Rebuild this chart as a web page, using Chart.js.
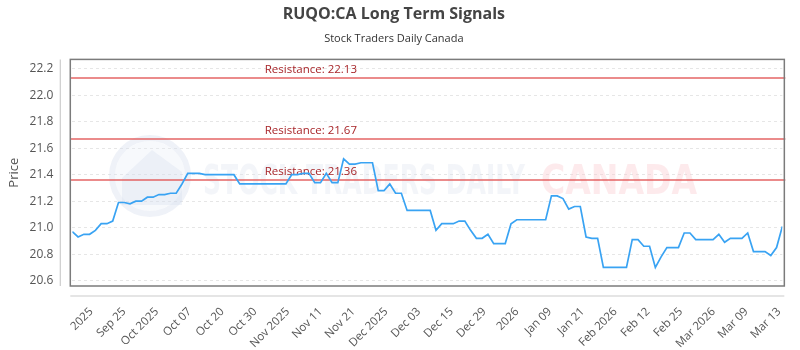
<!DOCTYPE html>
<html>
<head>
<meta charset="utf-8">
<script src="https://cdn.jsdelivr.net/npm/chart.js@4/dist/chart.umd.min.js"></script>
<style>
html,body{margin:0;padding:0;background:#fff;}
</style>
</head>
<body>
<canvas id="signals" width="800" height="350"></canvas>
<script>
const chartTitle='RUQO:CA Long Term Signals';
const chartSubtitle='Stock Traders Daily Canada';
// closing prices, one per point
const price=[
20.97,20.93,20.95,20.95,20.98,21.03,21.03,21.05,21.19,21.19,
21.18,21.20,21.20,21.23,21.23,21.25,21.25,21.26,21.26,21.33,
21.41,21.41,21.41,21.40,21.40,21.40,21.40,21.40,21.40,21.33,
21.33,21.33,21.33,21.33,21.33,21.33,21.33,21.33,21.40,21.40,
21.41,21.41,21.34,21.34,21.41,21.34,21.34,21.52,21.48,21.48,
21.49,21.49,21.49,21.28,21.28,21.33,21.26,21.26,21.13,21.13,
21.13,21.13,21.13,20.98,21.03,21.03,21.03,21.05,21.05,20.98,
20.92,20.92,20.95,20.88,20.88,20.88,21.03,21.06,21.06,21.06,
21.06,21.06,21.06,21.24,21.24,21.22,21.14,21.16,21.16,20.93,
20.92,20.92,20.70,20.70,20.70,20.70,20.70,20.91,20.91,20.86,
20.86,20.70,20.78,20.85,20.85,20.85,20.96,20.96,20.91,20.91,
20.91,20.91,20.95,20.89,20.92,20.92,20.92,20.96,20.82,20.82,
20.82,20.79,20.85,21.01
];
const tickLabels=['2025','Sep 25','Oct 2025','Oct 07','Oct 20','Oct 30','Nov 2025','Nov 11','Nov 21','Dec 2025','Dec 03',
  'Dec 15','Dec 29','2026','Jan 09','Jan 21','Feb 2026','Feb 12','Feb 25','Mar 2026','Mar 09','Mar 13'];
const yTicks=[20.6,20.8,21.0,21.2,21.4,21.6,21.8,22.0,22.2];
const resistance=[22.13,21.67,21.36];

// x ticks are evenly spaced, not tied to data points (in point-index units)
const tickFirst=3.3, tickGap=5.674;

const decor={
  id:'decor',
  beforeDatasetsDraw(chart){
    const {ctx,chartArea:a,scales:{y}}=chart;
    ctx.save();
    // watermark logo
    ctx.strokeStyle='rgba(215,223,238,0.4)';
    ctx.lineWidth=6;
    ctx.beginPath();ctx.arc(150,176,38,0,Math.PI*2);ctx.stroke();
    ctx.fillStyle='rgba(230,236,246,0.3)';
    ctx.beginPath();ctx.arc(150,176,35,0,Math.PI*2);ctx.fill();
    ctx.fillStyle='rgba(210,218,234,0.3)';
    ctx.beginPath();ctx.moveTo(122,178);ctx.lineTo(152,150);ctx.lineTo(182,172);ctx.lineTo(182,205);ctx.lineTo(122,205);ctx.closePath();ctx.fill();
    // watermark text
    ctx.font='bold 40px "DejaVu Sans Condensed", "DejaVu Sans"';
    ctx.textBaseline='alphabetic';
    let t1='STOCK TRADERS DAILY', t2='CANADA';
    let w1=ctx.measureText(t1).width, w2=ctx.measureText(t2).width;
    ctx.save();ctx.translate(203,194);ctx.scale(322/w1,1);
    ctx.fillStyle='rgba(220,226,238,0.35)';ctx.fillText(t1,0,0);ctx.restore();
    ctx.save();ctx.translate(541,194);ctx.scale(156/w2,1);
    ctx.fillStyle='rgba(250,205,210,0.42)';ctx.fillText(t2,0,0);ctx.restore();
    // resistance lines
    resistance.forEach(r=>{
      const py=y.getPixelForValue(r);
      ctx.strokeStyle='rgba(226,90,90,0.7)';
      ctx.lineWidth=2;
      ctx.beginPath();ctx.moveTo(a.left-2,py);ctx.lineTo(a.right+3,py);ctx.stroke();
      ctx.fillStyle='#a8262a';
      ctx.font='11.5px "Open Sans"';
      ctx.textAlign='left';
      ctx.fillText('Resistance: '+r.toFixed(2),a.left+0.271*(a.right-a.left),py-4.5);
    });
    ctx.restore();
  },
  afterDraw(chart){
    const {ctx,chartArea:a}=chart;
    ctx.save();
    ctx.strokeStyle='#7b7b7b';
    ctx.lineWidth=1.5;
    ctx.strokeRect(a.left-2,a.top,a.right-a.left+4,a.bottom-a.top);
    ctx.strokeStyle='#cccccc';
    ctx.lineWidth=1.2;
    ctx.beginPath();ctx.moveTo(a.left-12,a.top);ctx.lineTo(a.left-12,a.bottom);ctx.stroke();
    ctx.beginPath();ctx.moveTo(a.left-2,a.bottom+10);ctx.lineTo(a.right+2,a.bottom+10);ctx.stroke();
    ctx.restore();
  }
};

new Chart(document.getElementById('signals'),{
  type:'line',
  data:{
    datasets:[{
      label:'Price',
      data:price.map((v,i)=>({x:i,y:v})),
      borderColor:'#39a3f3',
      borderWidth:1.7,
      pointRadius:0,
      tension:0,
      fill:false
    }]
  },
  options:{
    responsive:false,
    animation:false,
    layout:{padding:{left:0,right:12.3,top:0,bottom:0}},
    plugins:{
      legend:{display:false},
      tooltip:{enabled:false},
      title:{
        display:true,
        text:chartTitle,
        color:'#444',
        font:{family:'Open Sans',size:16,weight:'bold'},
        padding:{top:5,bottom:4}
      },
      subtitle:{
        display:true,
        text:chartSubtitle,
        color:'#333',
        font:{family:'Open Sans',size:11},
        padding:{top:4,bottom:14}
      }
    },
    scales:{
      x:{
        type:'linear',
        min:0,
        max:price.length-1,
        afterBuildTicks:s=>{s.ticks=tickLabels.map((l,k)=>({value:tickFirst+k*tickGap}));},
        afterFit:s=>{s.height=64;},
        grid:{display:false},
        border:{display:false},
        ticks:{
          autoSkip:false,
          maxRotation:45,
          minRotation:45,
          padding:11,
          color:'#555',
          font:{family:'Open Sans',size:11.5},
          callback:(v,i)=>tickLabels[i]
        }
      },
      y:{
        min:20.56,
        max:22.27,
        afterBuildTicks:s=>{s.ticks=yTicks.map(v=>({value:v}));},
        afterFit:s=>{s.width=72.3;},
        grid:{color:'#e6e6e6',drawTicks:false},
        border:{display:false,dash:[3,3]},
        title:{display:true,text:'Price',color:'#555',font:{family:'Open Sans',size:13},padding:{top:6,bottom:0}},
        ticks:{
          padding:19,
          color:'#555',
          font:{family:'Open Sans',size:12},
          callback:v=>v.toFixed(1)
        }
      }
    }
  },
  plugins:[decor]
});
</script>
</body>
</html>
